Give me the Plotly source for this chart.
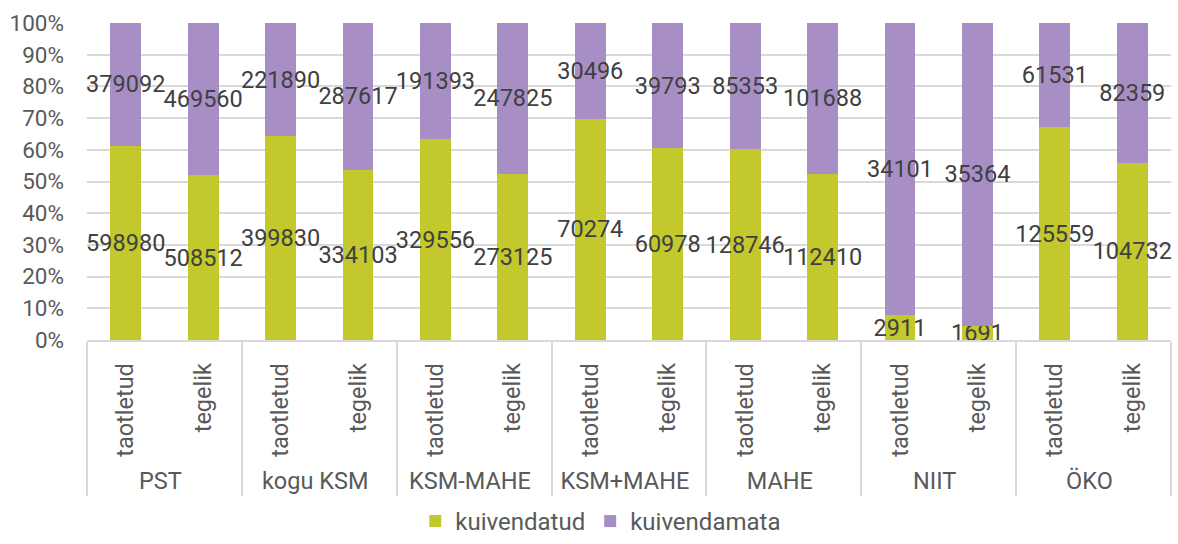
import plotly.graph_objects as go

# Group / sub-category labels (two-level x axis)
groups = ["PST", "kogu KSM", "KSM-MAHE", "KSM+MAHE", "MAHE", "NIIT", "ÖKO"]
kinds = ["taotletud", "tegelik"]

# values per group, order: taotletud, tegelik
kuivendatud = [598980, 508512, 399830, 334103, 329556, 273125, 70274, 60978,
               128746, 112410, 2911, 1691, 125559, 104732]
kuivendamata = [379092, 469560, 221890, 287617, 191393, 247825, 30496, 39793,
                85353, 101688, 34101, 35364, 61531, 82359]

GREEN = "#C3C82C"
PURPLE = "#A78FC5"
FONT = "Roboto"

x_outer = [g for g in groups for _ in kinds]
x_inner = [k for _ in groups for k in kinds]

fig = go.Figure()
for name, vals, col in [("kuivendatud", kuivendatud, GREEN),
                        ("kuivendamata", kuivendamata, PURPLE)]:
    fig.add_bar(
        name=name,
        x=[x_outer, x_inner],
        y=vals,
        marker=dict(color=col, line=dict(width=0)),
        text=[str(v) for v in vals],
        textposition="inside",
        insidetextanchor="middle",
        textangle=0,
        constraintext="none",
        cliponaxis=False,
        textfont=dict(family=FONT, size=23.5, color="#404040"),
    )

fig.update_layout(
    barmode="stack",
    barnorm="percent",
    bargap=0.6,
    width=1178,
    height=544,
    margin=dict(l=87, r=7, t=23, b=204),
    plot_bgcolor="white",
    paper_bgcolor="white",
    font=dict(family=FONT, size=22, color="#595959"),
    legend=dict(
        orientation="h",
        xref="container",
        x=0.51, xanchor="center",
        yref="container",
        y=0, yanchor="bottom",
        font=dict(size=24, color="#595959"),
        traceorder="normal",
    ),
)
fig.update_yaxes(
    range=[0, 100],
    dtick=10,
    ticksuffix="%",
    showgrid=True,
    gridcolor="#D9D9D9",
    gridwidth=1.5,
    zeroline=False,
    showline=False,
    automargin=False,
    ticklabelstandoff=22,
    tickfont=dict(size=22.5, color="#595959"),
)
fig.update_xaxes(
    type="multicategory",
    tickangle=-90,
    showline=True,
    linecolor="#D9D9D9",
    linewidth=1.5,
    showdividers=True,
    dividercolor="#D9D9D9",
    dividerwidth=1.5,
    showgrid=False,
    automargin=False,
    ticklabelstandoff=12,
    tickfont=dict(size=23.5, color="#595959"),
)

# the page's default 8px body margin would shift the whole figure
fig.write_html("out.html", config={"displayModeBar": False},
               post_script="document.body.style.margin='0px';")
